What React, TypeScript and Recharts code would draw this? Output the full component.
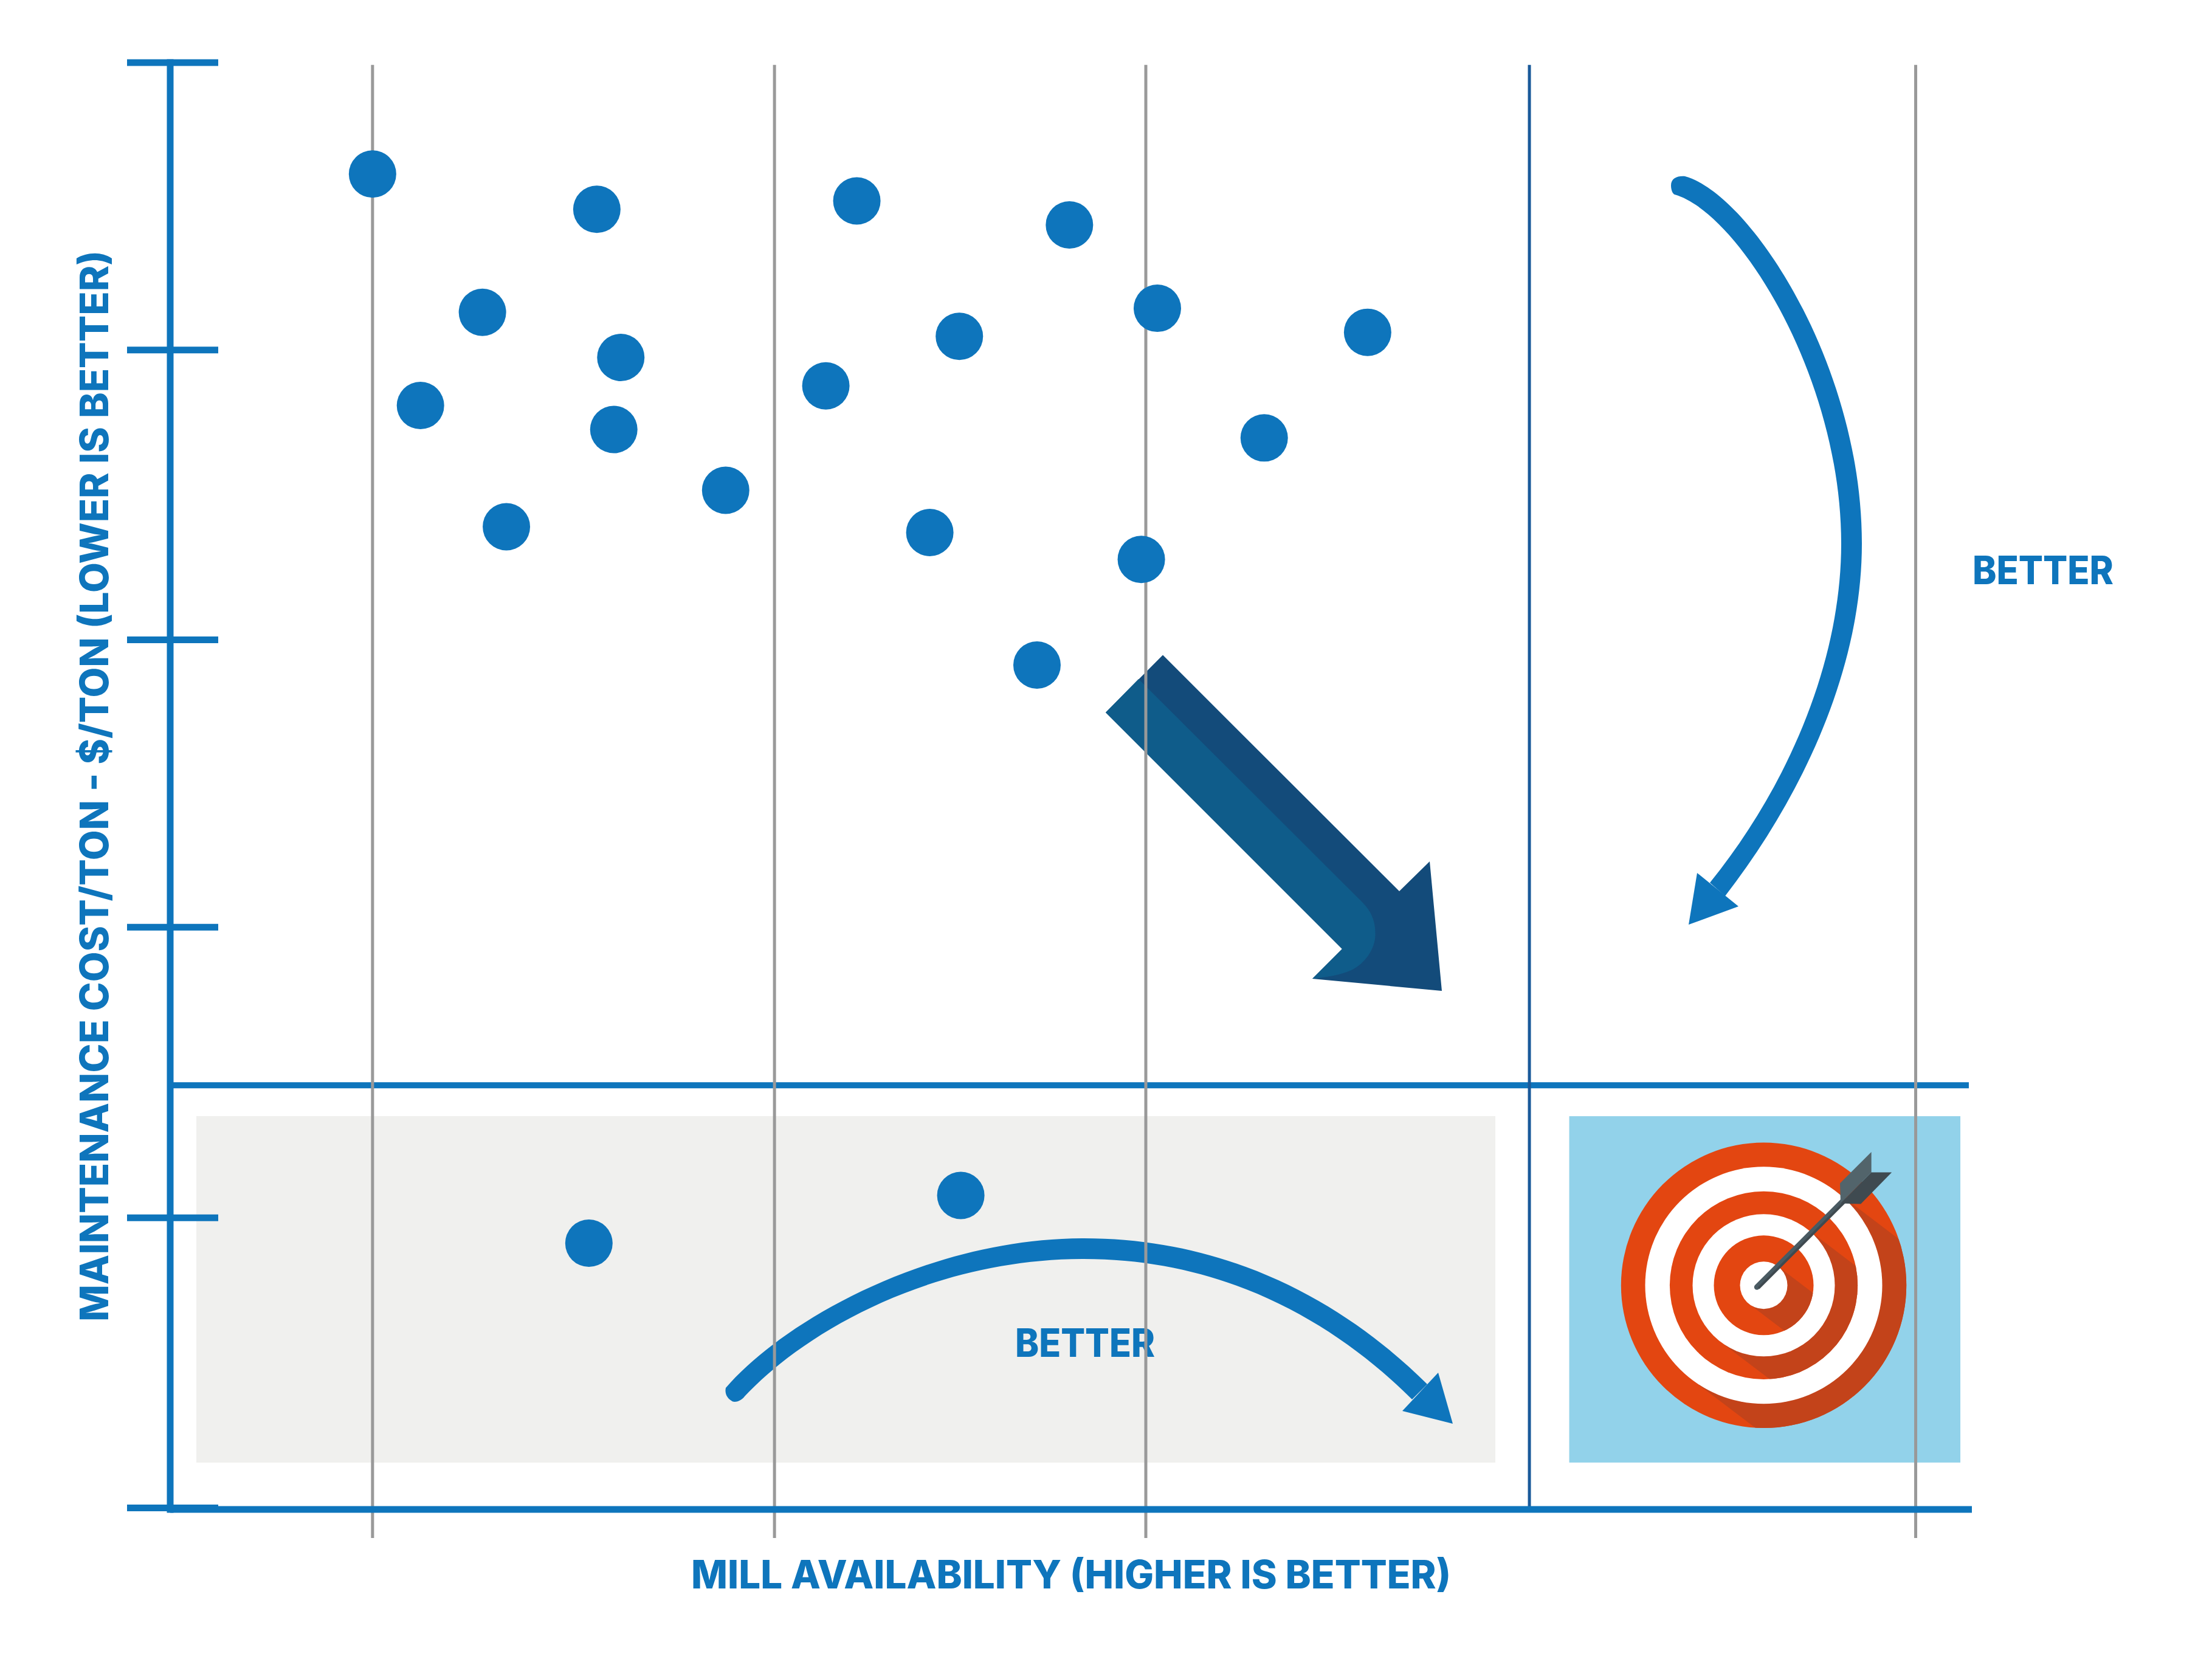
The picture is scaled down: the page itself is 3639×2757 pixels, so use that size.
import { ComposedChart, Scatter, XAxis, YAxis, ReferenceLine, ReferenceArea, Label } from "recharts";

const BLUE = "#0e75bc";
const GRAY = "#999999";
const NAVY = "#1a5a9a";
const FONT = "Inter, sans-serif";

// x = 0-100 along the axis, y = 0-5 tick bands
const millAvailability = [
  11.23, 23.68, 17.33, 13.89, 25.01, 24.62, 18.66, 30.83, 38.11, 49.91, 43.8, 36.39, 54.79, 66.46, 60.72, 42.16, 53.9,
  48.11, 23.24, 43.88,
];
const maintenanceCost = [
  4.615, 4.493, 4.137, 3.815, 3.981, 3.732, 3.396, 3.522, 4.522, 4.439, 4.054, 3.883, 4.151, 4.068, 3.703, 3.376, 3.283,
  2.918, 0.92, 1.085,
];
const yTicks = [0.005, 1.008, 2.012, 3.005, 4.007, 5];
const grayLines = [11.23, 33.54, 54.15, 96.88];
const targetLine = 75.44;
const targetCost = 1.466;
const xTitle = "MILL AVAILABILITY (HIGHER IS BETTER)";
const yTitle = "MAINTENANCE COST/TON - $/TON (LOWER IS BETTER)";
const betterText = "BETTER";

const points = millAvailability.map((x, i) => ({ x, y: maintenanceCost[i] }));

const YTick = (props: any) => (
  <line x1={props.x - 71} x2={props.x + 79} y1={props.y} y2={props.y} stroke={BLUE} strokeWidth={11} />
);

const Dot = (props: any) => <circle cx={props.cx} cy={props.cy} r={39} fill={BLUE} />;

// target picture: rings with a long shadow falling to the lower right
const TX = 2901.5;
const TY = 2114.3;
const RED = "#e34611";
const SHADOW = "#c3431a";
const rings = [
  { outer: 234.7, inner: 195 },
  { outer: 154.6, inner: 117 },
  { outer: 82, inner: 39 },
];

function Target() {
  return (
    <g>
      <defs>
        {rings.map((r, i) => (
          <clipPath id={`ring-${i}`} key={i}>
            <circle cx={TX} cy={TY} r={r.outer} />
          </clipPath>
        ))}
      </defs>
      {rings.map((r, i) => (
        <g key={i}>
          <circle cx={TX} cy={TY} r={r.outer} fill={RED} />
          <line
            x1={TX}
            y1={TY}
            x2={TX + 400}
            y2={TY + 304}
            stroke={SHADOW}
            strokeWidth={r.inner * 2}
            clipPath={`url(#ring-${i})`}
          />
          <circle cx={TX} cy={TY} r={r.inner} fill="#ffffff" />
        </g>
      ))}
      <line x1={2890.3} y1={2117.3} x2={3033} y2={1974.5} stroke="#4a5b63" strokeWidth={9} strokeLinecap="round" />
      <line x1={2893} y1={2119} x2={3035} y2={1977} stroke="#3f4a50" strokeWidth={4} />
      <polygon points="3027,1946.4 3078.6,1894.9 3078.6,1928.6 3028,1979.6" fill="#52646b" />
      <polygon points="3028,1979.6 3078.6,1928.6 3112.2,1928.6 3061.2,1980.6" fill="#3f4a50" />
    </g>
  );
}

function BigArrow() {
  return (
    <g>
      <polygon
        points="1913,1077.6 2302,1466 2352,1417 2372,1630 2159,1610 2208,1561 1819,1172"
        fill="#134b7a"
      />
      <path
        d="M1873 1117 L2241 1484 C2262 1505 2262.5 1525 2262.5 1538 C2262.5 1560 2246 1585 2223 1596 C2205 1604 2180 1608 2159 1610 L2208 1561 L1819 1172 Z"
        fill="#0f5c8a"
      />
    </g>
  );
}

function CurvedArrows() {
  return (
    <g fill={BLUE}>
      <path d="M2749 305 C2749 293 2760 289 2772 290 C2880 320 3063 600 3063 894 C3063 1100 2965 1310 2838 1474 L2813 1452 C2940 1295 3029 1090 3029 894 C3029 620 2860 350 2755 320 C2752 319 2749 313 2749 305 Z" />
      <polygon points="2792,1436 2860,1491 2778,1521" />
      <path d="M1194 2283 C1290 2172 1530 2037 1783 2037 C2025 2037 2215 2145 2348 2277 L2323 2302 C2195 2175 2015 2071 1783 2071 C1540 2071 1330 2185 1225 2297 C1218 2306 1207 2308 1203 2304 C1196 2300 1192 2292 1194 2283 Z" />
      <polygon points="2366,2258 2390,2342 2307,2321" />
    </g>
  );
}

// drawn on top of the blue panel, the gray lines stay behind it
const TargetPanel = (props: any) => (
  <g>
    <rect x={props.x} y={props.y} width={props.width} height={props.height} fill="#92d2ea" />
    <Target />
    <BigArrow />
    <CurvedArrows />
    <text
      x={3361}
      y={961}
      textAnchor="middle"
      fontFamily={FONT}
      fontWeight={800}
      fontSize={64}
      fill={BLUE}
      textLength={232}
      lengthAdjust="spacingAndGlyphs"
    >
      {betterText}
    </text>
    <text
      x={1785}
      y={2232}
      textAnchor="middle"
      fontFamily={FONT}
      fontWeight={800}
      fontSize={64}
      fill={BLUE}
      textLength={230}
      lengthAdjust="spacingAndGlyphs"
    >
      {betterText}
    </text>
  </g>
);

export default function App() {
  return (
    <div style={{ position: "absolute", left: 0, top: 0 }}>
      <ComposedChart width={3639} height={2757} data={points} margin={{ top: 103, right: 395, bottom: 0, left: 0 }}>
        <XAxis
          type="number"
          dataKey="x"
          domain={[0, 100]}
          height={274}
          tick={false}
          tickLine={false}
          axisLine={{ stroke: BLUE, strokeWidth: 11 }}
        >
          <Label
            value={xTitle}
            position="insideBottom"
            offset={144}
            textLength={1250}
            lengthAdjust="spacingAndGlyphs"
            style={{ fontFamily: FONT, fontWeight: 800, fontSize: 64, fill: BLUE }}
          />
        </XAxis>
        <YAxis
          type="number"
          domain={[0, 5]}
          ticks={yTicks}
          width={280}
          tick={YTick}
          tickLine={false}
          tickSize={0}
          tickMargin={0}
          axisLine={{ stroke: BLUE, strokeWidth: 11, strokeLinecap: "square" }}
        >
          <Label
            value={yTitle}
            angle={-90}
            position="insideLeft"
            offset={155}
            textLength={1762}
            lengthAdjust="spacingAndGlyphs"
            style={{ fontFamily: FONT, fontWeight: 800, fontSize: 64, fill: BLUE, textAnchor: "middle" }}
          />
        </YAxis>
        <ReferenceArea x1={1.45} x2={73.55} y1={0.162} y2={1.359} fill="#f0f0ee" fillOpacity={1} stroke="none" />
        <ReferenceLine
          segment={[
            { x: 0, y: targetCost },
            { x: 99.83, y: targetCost },
          ]}
          stroke={BLUE}
          strokeWidth={10}
        />
        <ReferenceLine
          segment={[
            { x: targetLine, y: 0 },
            { x: targetLine, y: 4.992 },
          ]}
          stroke={NAVY}
          strokeWidth={5}
        />
        {grayLines.map((x) => (
          <ReferenceLine
            key={x}
            segment={[
              { x, y: -0.099 },
              { x, y: 4.992 },
            ]}
            ifOverflow="visible"
            stroke={GRAY}
            strokeWidth={5}
          />
        ))}
        <ReferenceArea x1={77.65} x2={99.36} y1={0.162} y2={1.359} shape={TargetPanel} />
        <Scatter dataKey="y" shape={Dot} isAnimationActive={false} />
      </ComposedChart>
    </div>
  );
}
